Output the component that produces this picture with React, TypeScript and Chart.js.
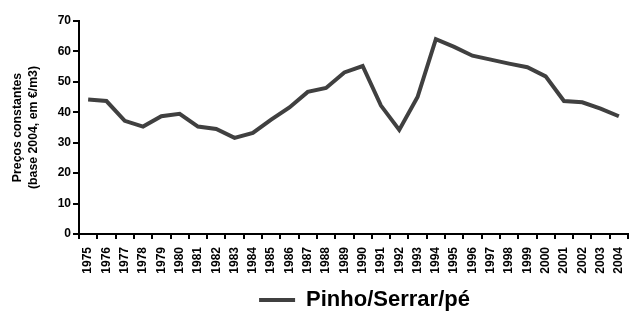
import React, { useEffect, useRef } from "react";
import { Chart, registerables } from "chart.js";

Chart.register(...registerables);

const years = [
  "1975", "1976", "1977", "1978", "1979", "1980", "1981", "1982", "1983", "1984",
  "1985", "1986", "1987", "1988", "1989", "1990", "1991", "1992", "1993", "1994",
  "1995", "1996", "1997", "1998", "1999", "2000", "2001", "2002", "2003", "2004",
];
const pinhoSerrarPe = [
  44.2, 43.7, 37.2, 35.3, 38.7, 39.5, 35.3, 34.5, 31.6, 33.2,
  37.6, 41.6, 46.7, 48.0, 53.1, 55.2, 42.2, 34.2, 45.0, 64.0,
  61.5, 58.6, 57.3, 56.0, 54.8, 51.8, 43.7, 43.3, 41.2, 38.7,
];
const seriesName = "Pinho/Serrar/pé";
const yTitle = ["Preços constantes", "(base 2004, em €/m3)"];

const legendShift = {
  id: "legendShift",
  afterLayout(chart: any) {
    const lg = chart.legend;
    if (!lg) return;
    const target = 364.5;
    const cur = (lg.left + lg.right) / 2;
    const d = target - cur;
    lg.left += d;
    lg.right += d;
    lg.top += 8;
    lg.bottom += 8;
  },
};

export default function App() {
  const ref = useRef<HTMLCanvasElement | null>(null);
  useEffect(() => {
    if (!ref.current) return;
    const font = "'Liberation Sans', Arial, sans-serif";
    const chart = new Chart(ref.current, {
      type: "line",
      data: {
        labels: years,
        datasets: [
          {
            label: seriesName,
            data: pinhoSerrarPe,
            borderColor: "#404040",
            backgroundColor: "#404040",
            borderWidth: 4,
            pointRadius: 0,
            tension: 0,
          },
        ],
      },
      plugins: [legendShift],
      options: {
        animation: false,
        responsive: false,
        maintainAspectRatio: false,
        layout: { padding: { top: 21, right: 1, left: 0, bottom: 0 } },
        plugins: {
          legend: {
            position: "bottom",
            labels: {
              color: "#000",
              font: { family: font, size: 22, weight: "bold" },
              boxWidth: 36,
              boxHeight: 4,
              padding: 2,
              generateLabels: (c: any) => {
                const items = Chart.defaults.plugins.legend.labels.generateLabels(c);
                items.forEach((it: any) => {
                  it.lineWidth = 0;
                });
                return items;
              },
            },
          },
          tooltip: { enabled: false },
        },
        scales: {
          x: {
            offset: true,
            afterFit: (s: any) => {
              s.height = 45;
              s.paddingLeft = 0;
              s.paddingRight = 0;
            },
            grid: {
              offset: true,
              drawOnChartArea: false,
              drawTicks: true,
              tickLength: 5,
              color: "#000",
              lineWidth: 2,
            },
            border: { display: true, color: "#000", width: 2 },
            ticks: {
              autoSkip: false,
              minRotation: 90,
              maxRotation: 90,
              color: "#000",
              padding: 8,
              font: { family: font, size: 12, weight: "bold" },
            },
          },
          y: {
            min: 0,
            max: 70,
            afterFit: (s: any) => {
              s.width = 79;
            },
            grid: {
              drawOnChartArea: false,
              drawTicks: true,
              tickLength: 6,
              color: "#000",
              lineWidth: 2,
            },
            border: { display: true, color: "#000", width: 2 },
            ticks: {
              stepSize: 10,
              color: "#000",
              padding: 2,
              font: { family: font, size: 12, weight: "bold" },
            },
            title: {
              display: true,
              text: yTitle,
              color: "#000",
              padding: { top: 9, bottom: 4 },
              font: { family: font, size: 12.3, weight: "bold", lineHeight: 1.33 },
            },
          },
        },
      },
    });
    return () => chart.destroy();
  }, []);
  return (
    <div style={{ position: "fixed", left: 0, top: 0, width: 629, height: 313, background: "#fff" }}>
      <canvas ref={ref} width={629} height={313} style={{ width: 629, height: 313 }} />
    </div>
  );
}
